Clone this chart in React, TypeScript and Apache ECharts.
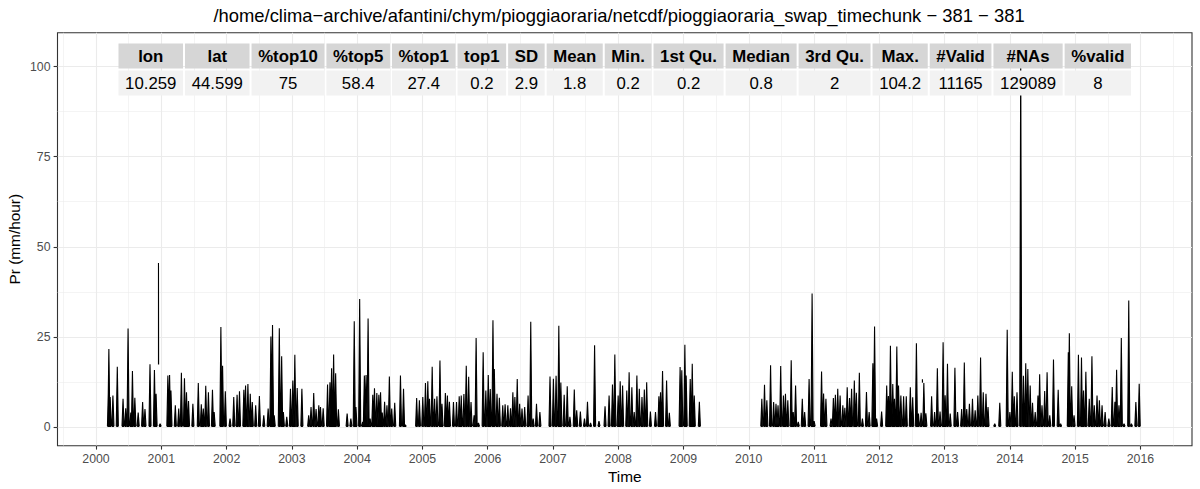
import React, { useEffect, useRef } from "react";
import * as echarts from "echarts";

const FONT = "'Liberation Sans', Arial, Helvetica, sans-serif";

const titleText =
  "/home/clima\u2212archive/afantini/chym/pioggiaoraria/netcdf/pioggiaoraria_swap_timechunk \u2212 381 \u2212 381";
const xTitle = "Time";
const yTitle = "Pr (mm/hour)";

const yearTicks = [2000, 2001, 2002, 2003, 2004, 2005, 2006, 2007, 2008, 2009, 2010, 2011, 2012, 2013, 2014, 2015, 2016];
const yearMinor = [1999.5, 2000.5, 2001.5, 2002.5, 2003.5, 2004.5, 2005.5, 2006.5, 2007.5, 2008.5, 2009.5, 2010.5, 2011.5, 2012.5, 2013.5, 2014.5, 2015.5, 2016.5];
const yTicks = [0, 25, 50, 75, 100];
const yMinor = [12.5, 37.5, 62.5, 87.5];

const tableHeaders = ["lon", "lat", "%top10", "%top5", "%top1", "top1", "SD", "Mean", "Min.", "1st Qu.", "Median", "3rd Qu.", "Max.", "#Valid", "#NAs", "%valid"];
const tableValues = ["10.259", "44.599", "75", "58.4", "27.4", "0.2", "2.9", "1.8", "0.2", "0.2", "0.8", "2", "104.2", "11165", "129089", "8"];

// [decimal year, peak value mm/hour]
const spikes2000to2002: [number, number][] = [
  [2000.191, 11.5], [2000.197, 21.6], [2000.217, 8.3], [2000.259, 8.7], [2000.326, 16.7], [2000.414, 7.8], [2000.455, 5.2], [2000.491, 27.3], [2000.533, 4.0], [2000.558, 15.5], [2000.595, 8.1], [2000.646, 4.0], [2000.714, 6.9], [2000.75, 5.0], [2000.827, 17.4], [2000.895, 15.8], [2000.92, 9.2], [2000.982, 0.9],
  [2001.101, 14.3], [2001.127, 14.4], [2001.148, 10.1], [2001.215, 6.0], [2001.267, 5.1], [2001.308, 15.0], [2001.355, 13.5], [2001.386, 9.6], [2001.417, 7.2], [2001.484, 6.4], [2001.567, 12.2], [2001.613, 6.3], [2001.644, 5.1], [2001.681, 11.4], [2001.722, 9.6], [2001.784, 10.3], [2001.81, 4.1], [2001.913, 27.7], [2001.939, 17.0], [2001.981, 9.9],
  [2002.053, 2.3], [2002.11, 8.3], [2002.161, 8.9], [2002.198, 9.9], [2002.265, 10.3], [2002.291, 11.5], [2002.327, 11.9], [2002.363, 9.2], [2002.394, 6.9], [2002.446, 6.0], [2002.503, 8.6], [2002.57, 3.2], [2002.637, 5.1], [2002.679, 25.1], [2002.704, 28.3], [2002.73, 3.2], [2002.808, 27.4], [2002.844, 19.6], [2002.87, 4.1], [2002.922, 2.8], [2002.979, 10.6],
];

const spikes2003to2005: [number, number][] = [
  [2003.015, 12.9], [2003.046, 20.0], [2003.082, 10.8], [2003.154, 10.6], [2003.258, 3.2], [2003.294, 5.5], [2003.335, 9.4], [2003.371, 5.0], [2003.413, 6.0], [2003.439, 5.5], [2003.48, 5.2], [2003.547, 11.8], [2003.584, 12.4], [2003.609, 16.3], [2003.64, 20.1], [2003.671, 14.9], [2003.713, 4.9], [2003.847, 3.7], [2003.904, 2.3], [2003.956, 29.3], [2003.982, 5.5],
  [2004.039, 35.5], [2004.085, 1.4], [2004.111, 14.3], [2004.137, 14.4], [2004.168, 30.1], [2004.199, 2.3], [2004.24, 8.9], [2004.266, 10.7], [2004.302, 9.4], [2004.333, 8.9], [2004.359, 9.6], [2004.385, 4.0], [2004.421, 7.0], [2004.457, 6.0], [2004.494, 14.0], [2004.53, 5.1], [2004.576, 6.7], [2004.664, 14.3], [2004.711, 10.6], [2004.737, 0.6], [2004.912, 8.0], [2004.954, 7.4],
  [2005.006, 8.3], [2005.047, 12.2], [2005.083, 12.7], [2005.109, 7.8], [2005.15, 16.7], [2005.187, 7.8], [2005.223, 8.5], [2005.269, 18.4], [2005.3, 6.4], [2005.352, 9.4], [2005.383, 8.7], [2005.414, 7.0], [2005.476, 6.9], [2005.523, 6.9], [2005.564, 8.5], [2005.595, 8.7], [2005.636, 9.1], [2005.672, 17.0], [2005.709, 13.9], [2005.745, 6.9], [2005.792, 3.2], [2005.823, 24.7], [2005.859, 1.1], [2005.931, 20.7], [2005.972, 10.1],
];

const spikes2006to2009: [number, number][] = [
  [2006.009, 14.4], [2006.04, 10.5], [2006.081, 29.6], [2006.102, 16.1], [2006.143, 9.2], [2006.179, 8.1], [2006.231, 6.0], [2006.267, 6.3], [2006.309, 6.0], [2006.35, 5.2], [2006.386, 9.6], [2006.417, 8.3], [2006.453, 13.3], [2006.49, 6.4], [2006.526, 5.1], [2006.567, 5.5], [2006.619, 8.7], [2006.66, 29.2], [2006.697, 2.3], [2006.748, 6.4], [2006.8, 4.1], [2006.955, 14.0],
  [2007.007, 13.4], [2007.048, 14.2], [2007.09, 28.1], [2007.121, 12.3], [2007.172, 8.9], [2007.219, 11.3], [2007.26, 2.8], [2007.327, 10.4], [2007.364, 4.6], [2007.42, 4.3], [2007.483, 2.3], [2007.529, 7.0], [2007.576, 1.1], [2007.638, 22.7], [2007.705, 1.6], [2007.798, 5.7], [2007.86, 8.7], [2007.912, 11.8], [2007.948, 20.1], [2007.999, 8.7],
  [2008.03, 12.7], [2008.067, 11.5], [2008.131, 10.1], [2008.167, 15.2], [2008.209, 11.0], [2008.245, 4.1], [2008.286, 14.3], [2008.323, 10.6], [2008.364, 8.3], [2008.4, 10.4], [2008.436, 12.4], [2008.493, 4.3], [2008.571, 4.1], [2008.623, 8.5], [2008.648, 9.6], [2008.679, 15.5], [2008.741, 12.9], [2008.783, 3.9], [2008.948, 16.6], [2008.974, 15.7],
  [2009.021, 22.8], [2009.041, 14.3], [2009.103, 13.3], [2009.134, 17.5], [2009.165, 8.7], [2009.243, 7.0],
];

const spikes2010to2012: [number, number][] = [
  [2010.2, 7.8], [2010.241, 11.7], [2010.277, 7.4], [2010.334, 17.1], [2010.381, 6.9], [2010.417, 6.4], [2010.448, 6.0], [2010.489, 16.9], [2010.531, 8.7], [2010.562, 9.2], [2010.598, 7.4], [2010.65, 18.5], [2010.681, 4.1], [2010.717, 11.5], [2010.758, 1.4], [2010.82, 7.8], [2010.856, 4.1], [2010.924, 13.3], [2010.97, 37.0],
  [2011.001, 1.6], [2011.115, 15.4], [2011.146, 9.3], [2011.182, 7.8], [2011.26, 2.3], [2011.296, 8.0], [2011.327, 8.9], [2011.363, 10.6], [2011.399, 8.7], [2011.441, 6.0], [2011.472, 5.3], [2011.508, 11.0], [2011.544, 8.0], [2011.575, 10.6], [2011.617, 12.9], [2011.648, 9.5], [2011.694, 15.0], [2011.741, 2.3], [2011.803, 9.7], [2011.844, 4.1], [2011.901, 17.7], [2011.927, 27.9], [2011.958, 2.3],
  [2012.035, 4.3], [2012.113, 11.5], [2012.139, 8.6], [2012.17, 22.5], [2012.206, 11.9], [2012.232, 7.8], [2012.268, 22.3], [2012.294, 11.5], [2012.33, 8.7], [2012.372, 8.5], [2012.413, 8.5], [2012.475, 11.0], [2012.511, 8.2], [2012.568, 23.2], [2012.599, 3.7], [2012.64, 3.9], [2012.682, 12.2], [2012.713, 3.8], [2012.801, 8.5], [2012.847, 4.1], [2012.889, 16.3], [2012.93, 4.3], [2012.977, 23.5],
];

const spikes2013to2015: [number, number][] = [
  [2013.008, 8.8], [2013.044, 17.5], [2013.086, 3.7], [2013.158, 16.4], [2013.199, 4.1], [2013.261, 5.0], [2013.302, 17.9], [2013.339, 5.0], [2013.38, 6.4], [2013.427, 7.8], [2013.468, 4.6], [2013.509, 8.7], [2013.551, 19.3], [2013.592, 9.6], [2013.634, 9.2], [2013.665, 5.5], [2013.768, 0.9], [2013.845, 6.7], [2013.959, 27.0],
  [2014.0, 4.1], [2014.037, 15.3], [2014.068, 8.5], [2014.109, 9.6], [2014.166, 104.2], [2014.207, 14.2], [2014.243, 17.7], [2014.275, 16.1], [2014.311, 11.5], [2014.347, 6.7], [2014.388, 4.1], [2014.43, 8.7], [2014.456, 14.6], [2014.492, 6.0], [2014.533, 10.0], [2014.57, 15.2], [2014.611, 3.2], [2014.668, 18.7], [2014.74, 10.3], [2014.777, 0.9], [2014.895, 20.7], [2014.911, 26.0], [2014.947, 11.3], [2014.983, 3.2],
  [2015.05, 20.0], [2015.097, 19.3], [2015.128, 10.1], [2015.164, 15.3], [2015.216, 7.8], [2015.257, 19.6], [2015.293, 6.0], [2015.335, 8.7], [2015.371, 7.4], [2015.412, 6.0], [2015.459, 4.1], [2015.516, 2.3], [2015.568, 11.1], [2015.609, 7.0], [2015.635, 15.9], [2015.671, 6.0], [2015.707, 24.7], [2015.749, 0.9], [2015.821, 35.1], [2015.862, 0.9], [2015.93, 6.9], [2015.981, 12.0],
];

// segments not reaching the minimum: [decimal year, low, high]
const floatingSegments: [number, number, number][] = [
  [2000.957, 17.3, 45.5],
  [2012.66, 12.3, 13.2],
];

const BASE_VALUE = 0.2;
const X_MIN = 1999.41;
const X_MAX = 2016.79;
const Y_MIN = -5.21;
const Y_MAX = 109.41;

function buildSpikeData() {
  const all = [...spikes2000to2002, ...spikes2003to2005, ...spikes2006to2009, ...spikes2010to2012, ...spikes2013to2015].sort((a, b) => a[0] - b[0]);
  const data: (number | null)[][] = [];
  const half = 0.016;
  for (const [t, v] of all) {
    data.push([t - half, BASE_VALUE], [t, v], [t + half, BASE_VALUE], [t + half + 0.0005, null]);
  }
  return data;
}

function buildFloatingData() {
  const data: (number | null)[][] = [];
  for (const [t, lo, hi] of floatingSegments) {
    data.push([t, lo], [t, hi], [t + 0.002, lo], [t + 0.0025, null]);
  }
  return data;
}

export default function App() {
  const ref = useRef<HTMLDivElement>(null);

  useEffect(() => {
    document.body.style.margin = "0";
    const chart = echarts.init(ref.current!, undefined, { renderer: "svg" });

    const gridLeft = 57.5;
    const gridTop = 32.7;
    const gridRight = 8;
    const gridBottom = 43.3;
    const W = 1200;
    const H = 489;
    const panelCx = (gridLeft + (W - gridRight)) / 2;
    const panelCy = (gridTop + (H - gridBottom)) / 2;

    // table layout
    const tFont = 16.8;
    const pad = 15.2;
    const canvas = document.createElement("canvas");
    const ctx = canvas.getContext("2d")!;
    const widths = tableHeaders.map((h, i) => {
      ctx.font = `bold ${tFont}px ${FONT}`;
      const wh = ctx.measureText(h).width;
      ctx.font = `${tFont}px ${FONT}`;
      const wv = ctx.measureText(tableValues[i]).width;
      return Math.max(wh, wv) + pad;
    });
    const total = widths.reduce((a, b) => a + b, 0);
    let cx = panelCx - total / 2;
    const tTop = 42.5;
    const rowH = 27;
    const tableEls: any[] = [];
    widths.forEach((w, i) => {
      tableEls.push({
        type: "rect",
        z: 100,
        shape: { x: cx + 1, y: tTop + 1, width: w - 2, height: rowH - 2 },
        style: { fill: "#D6D6D6" },
      });
      tableEls.push({
        type: "rect",
        z: 100,
        shape: { x: cx + 1, y: tTop + rowH + 1, width: w - 2, height: rowH - 2 },
        style: { fill: "#F2F2F2" },
      });
      tableEls.push({
        type: "text",
        z: 101,
        x: cx + w / 2,
        y: tTop + rowH / 2,
        style: { text: tableHeaders[i], font: `bold ${tFont}px ${FONT}`, fill: "#000", textAlign: "center", textVerticalAlign: "middle", align: "center", verticalAlign: "middle" },
      });
      tableEls.push({
        type: "text",
        z: 101,
        x: cx + w / 2,
        y: tTop + rowH * 1.5,
        style: { text: tableValues[i], font: `${tFont}px ${FONT}`, fill: "#000", textAlign: "center", textVerticalAlign: "middle", align: "center", verticalAlign: "middle" },
      });
      cx += w;
    });

    const axisLabelStyle = { color: "#4D4D4D", fontSize: 12.3, fontFamily: FONT };

    const option: any = {
      animation: false,
      grid: {
        left: gridLeft,
        top: gridTop,
        right: gridRight,
        bottom: gridBottom,
        show: true,
        borderColor: "#333333",
        borderWidth: 1.1,
        backgroundColor: "rgba(0,0,0,0)",
      },
      xAxis: [
        {
          type: "value",
          min: X_MIN,
          max: X_MAX,
          axisLine: { show: false, onZero: false },
          axisTick: { show: true, length: 3.9, lineStyle: { color: "#333333", width: 1.1 }, customValues: yearTicks },
          axisLabel: { ...axisLabelStyle, margin: 7, customValues: yearTicks, formatter: (v: number) => String(Math.round(v)) },
          splitLine: { show: true, lineStyle: { color: "#EBEBEB", width: 1.1 } },
        },
        {
          type: "value",
          min: X_MIN,
          max: X_MAX,
          position: "bottom",
          axisLine: { show: false, onZero: false },
          axisTick: { show: false, customValues: yearMinor },
          axisLabel: { show: false, customValues: yearMinor },
          splitLine: { show: true, lineStyle: { color: "#EBEBEB", width: 0.55 } },
        },
      ],
      yAxis: [
        {
          type: "value",
          min: Y_MIN,
          max: Y_MAX,
          axisLine: { show: false, onZero: false },
          axisTick: { show: true, length: 3.9, lineStyle: { color: "#333333", width: 1.1 }, customValues: yTicks },
          axisLabel: { ...axisLabelStyle, margin: 7, customValues: yTicks, formatter: (v: number) => String(Math.round(v)) },
          splitLine: { show: true, lineStyle: { color: "#EBEBEB", width: 1.1 } },
        },
        {
          type: "value",
          min: Y_MIN,
          max: Y_MAX,
          position: "left",
          axisLine: { show: false, onZero: false },
          axisTick: { show: false, customValues: yMinor },
          axisLabel: { show: false, customValues: yMinor },
          splitLine: { show: true, lineStyle: { color: "#EBEBEB", width: 0.55 } },
        },
      ],
      series: [
        {
          type: "line",
          xAxisIndex: 0,
          yAxisIndex: 0,
          data: buildSpikeData(),
          showSymbol: false,
          symbol: "none",
          connectNulls: false,
          lineStyle: { color: "#000000", width: 1.1 },
          areaStyle: { color: "#000000", opacity: 1, origin: "auto" },
          silent: true,
          z: 5,
        },
        {
          type: "line",
          xAxisIndex: 0,
          yAxisIndex: 0,
          data: buildFloatingData(),
          showSymbol: false,
          symbol: "none",
          connectNulls: false,
          lineStyle: { color: "#000000", width: 1.1 },
          silent: true,
          z: 5,
        },
      ],
      graphic: [
        {
          type: "text",
          z: 100,
          x: 619,
          y: 15.5,
          style: { text: titleText, font: `18.4px ${FONT}`, fill: "#000", textAlign: "center", textVerticalAlign: "middle", align: "center", verticalAlign: "middle" },
        },
        {
          type: "text",
          z: 100,
          x: panelCx,
          y: 476.5,
          style: { text: xTitle, font: `15.4px ${FONT}`, fill: "#000", textAlign: "center", textVerticalAlign: "middle", align: "center", verticalAlign: "middle" },
        },
        {
          type: "text",
          z: 100,
          x: 14.5,
          y: panelCy,
          rotation: Math.PI / 2,
          style: { text: yTitle, font: `15.4px ${FONT}`, fill: "#000", textAlign: "center", textVerticalAlign: "middle", align: "center", verticalAlign: "middle" },
        },
        ...tableEls,
      ],
    };

    chart.setOption(option);
    return () => chart.dispose();
  }, []);

  return <div ref={ref} style={{ width: 1200, height: 489 }} />;
}
